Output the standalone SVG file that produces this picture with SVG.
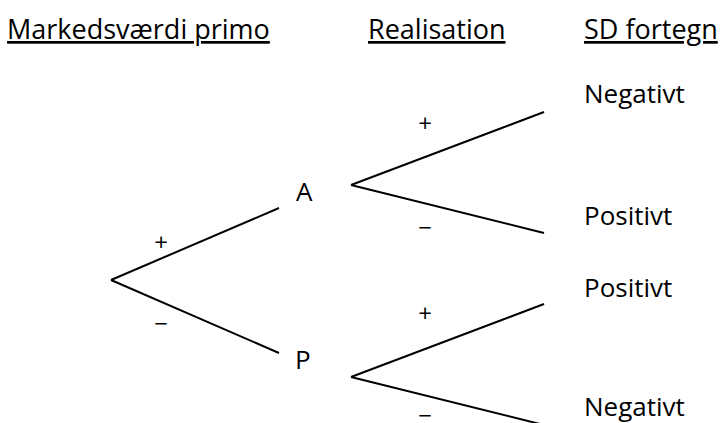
<svg xmlns="http://www.w3.org/2000/svg" width="724" height="423" viewBox="0 0 724 423">
<style>
text{font-family:"Open Sans","Liberation Sans",sans-serif;fill:#000}
.h{font-size:27px;text-decoration:underline}
.n{font-size:26px}
.s{font-size:24px;text-anchor:middle}
line{stroke:#000;stroke-width:2}
</style>
<rect width="724" height="423" fill="#fff"/>
<g id="headers">
<text class="h" x="7" y="39">Markedsværdi primo</text>
<text class="h" x="368" y="39">Realisation</text>
<text class="h" x="584" y="39">SD fortegn</text>
</g>
<g id="connectors">
<line x1="111" y1="280" x2="279" y2="208"/>
<line x1="111" y1="280" x2="279" y2="353"/>
<line x1="351" y1="185" x2="544" y2="112"/>
<line x1="351" y1="185" x2="544" y2="233"/>
<line x1="351" y1="377" x2="544" y2="304"/>
<line x1="351" y1="377" x2="544" y2="425"/>
</g>
<g id="edge-labels">
<text class="s" x="161" y="251">+</text>
<text class="s" x="161" y="332">−</text>
<text class="s" x="425" y="132">+</text>
<text class="s" x="425" y="236">−</text>
<text class="s" x="425" y="322">+</text>
<text class="s" x="425" y="424">−</text>
</g>
<g id="node-A"><text class="n" x="296" y="201">A</text></g>
<g id="node-P"><text class="n" x="295" y="369">P</text></g>
<g id="leaf-1"><text class="n" x="584" y="103">Negativt</text></g>
<g id="leaf-2"><text class="n" x="584" y="225">Positivt</text></g>
<g id="leaf-3"><text class="n" x="584" y="297">Positivt</text></g>
<g id="leaf-4"><text class="n" x="584" y="416">Negativt</text></g>
</svg>
